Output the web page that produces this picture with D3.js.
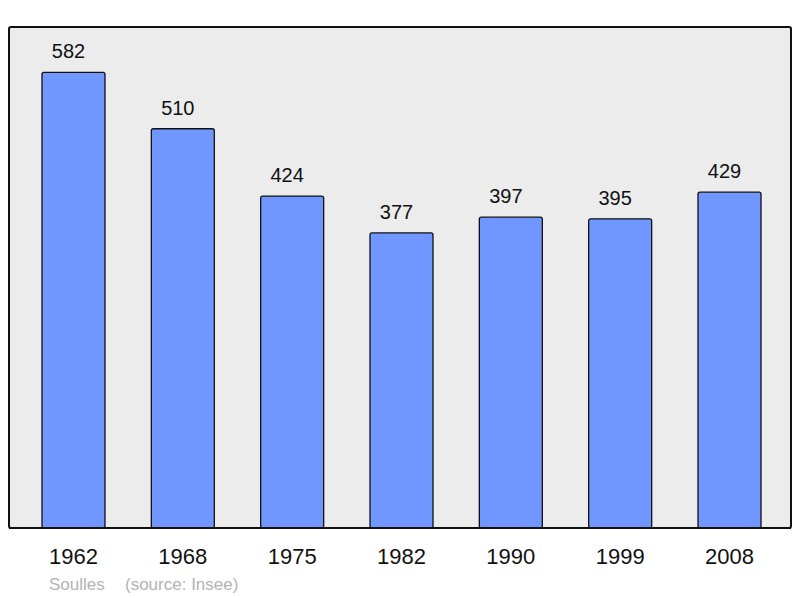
<!DOCTYPE html>
<html>
<head>
<meta charset="utf-8">
<script src="https://cdn.jsdelivr.net/npm/d3@7/dist/d3.min.js"></script>
<style>
html,body{margin:0;padding:0;background:#fff;}
svg{display:block;}
text{font-family:"Liberation Sans",Arial,sans-serif;}
</style>
</head>
<body>
<script>
const years = ["1962","1968","1975","1982","1990","1999","2008"];
const population = [582,510,424,377,397,395,429];
const yMax = 640;
const commune = "Soulles";
const source = "(source: Insee)";

const W = 800, H = 598;
const frame = {x:9, y:27, w:782, h:501};

const svg = d3.select("body").append("svg").attr("width",W).attr("height",H);

svg.append("rect")
  .attr("x",frame.x).attr("y",frame.y)
  .attr("width",frame.w).attr("height",frame.h)
  .attr("rx",2).attr("ry",2)
  .attr("fill","#ececec").attr("stroke","#111").attr("stroke-width",2);

const x = d3.scaleBand().domain(years).range([10.5,792.5])
  .paddingInner(0.4238).paddingOuter(0.288);
const y = d3.scaleLinear().domain([0,yMax]).range([frame.y+frame.h, frame.y]);

const data = years.map((yr,i)=>({year:yr, value:population[i]}));

svg.selectAll("rect.bar").data(data).enter().append("rect")
  .attr("class","bar")
  .attr("x",d=>x(d.year))
  .attr("y",d=>y(d.value))
  .attr("width",x.bandwidth())
  .attr("height",d=>y(0)-y(d.value))
  .attr("rx",2).attr("ry",2)
  .attr("fill","#7096ff").attr("stroke","#111").attr("stroke-width",1.3);

svg.append("line")
  .attr("x1",frame.x).attr("x2",frame.x+frame.w)
  .attr("y1",frame.y+frame.h).attr("y2",frame.y+frame.h)
  .attr("stroke","#111").attr("stroke-width",2);

svg.selectAll("text.val").data(data).enter().append("text")
  .attr("class","val")
  .attr("x",d=>x(d.year)+x.bandwidth()/2)
  .attr("dx",-5)
  .attr("y",d=>y(d.value)-14)
  .attr("text-anchor","middle")
  .attr("font-size",20)
  .attr("fill","#111")
  .text(d=>d.value);

const xAxis = d3.axisBottom(x).tickSize(0).tickPadding(0);
const ax = svg.append("g").attr("transform",`translate(0,${frame.y+frame.h})`).call(xAxis);
ax.select(".domain").remove();
ax.selectAll("text")
  .attr("dy",null)
  .attr("y",36)
  .attr("font-size",22)
  .attr("font-family","Liberation Sans, Arial, sans-serif")
  .attr("fill","#111");

svg.append("text").attr("x",49).attr("y",590)
  .attr("font-size",17).attr("fill","#b3b3b3").text(commune);
svg.append("text").attr("x",125).attr("y",590)
  .attr("font-size",17).attr("fill","#b3b3b3").text(source);
</script>
</body>
</html>
